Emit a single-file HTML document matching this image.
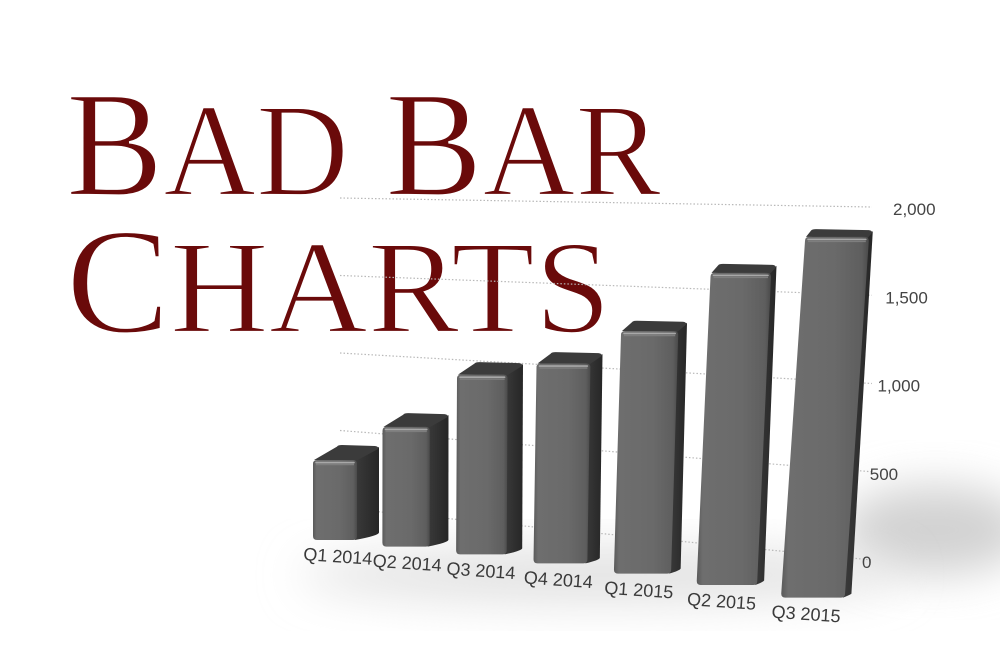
<!DOCTYPE html>
<html><head><meta charset="utf-8"><style>
html,body{margin:0;padding:0;background:#fff;width:1000px;height:667px;overflow:hidden}
svg{display:block}
</style></head><body>
<svg id="chart" width="1000" height="667" viewBox="0 0 1000 667" xmlns="http://www.w3.org/2000/svg">
<defs>
<linearGradient id="frontG" x1="0" x2="1" y1="0" y2="0">
<stop offset="0" stop-color="#5a5a5a"/><stop offset="0.08" stop-color="#6e6e6e"/><stop offset="0.6" stop-color="#6a6a6a"/><stop offset="0.92" stop-color="#5e5e5e"/><stop offset="1" stop-color="#4a4a4a"/>
</linearGradient>
<linearGradient id="sideG" x1="0" x2="1" y1="0" y2="0">
<stop offset="0" stop-color="#3a3a3a"/><stop offset="1" stop-color="#262626"/>
</linearGradient>
<filter id="blur" x="-50%" y="-50%" width="200%" height="200%"><feGaussianBlur stdDeviation="22"/></filter>
</defs>
<g id="shadow">
<ellipse cx="935" cy="530" rx="95" ry="45" fill="#d2d2d2" filter="url(#blur)"/>
<ellipse cx="600" cy="575" rx="300" ry="28" fill="#e2e2e2" filter="url(#blur)"/>
</g>
<g fill="#6a0a0a" stroke="#fff" stroke-width="2.2" font-family="'Liberation Serif', serif">
<text x="66" y="195" textLength="595" lengthAdjust="spacingAndGlyphs" font-size="151">B<tspan font-size="133">AD</tspan> B<tspan font-size="133">AR</tspan></text>
<text x="66" y="332" textLength="545" lengthAdjust="spacingAndGlyphs" font-size="151">C<tspan font-size="133">HARTS</tspan></text>
</g>
<g id="grid"></g>
<g id="ylabels"></g>
<g id="bars"></g>
<g id="xlabels"></g>
</svg>
<script>
const categories = ["Q1 2014","Q2 2014","Q3 2014","Q4 2014","Q1 2015","Q2 2015","Q3 2015"];
const values = [615, 850, 1185, 1230, 1400, 1695, 1850];
const yTicks = [0, 500, 1000, 1500, 2000];
const yTickLabels = ["0","500","1,000","1,500","2,000"];

const NS = "http://www.w3.org/2000/svg";
function mk(tag, attrs, parent){const e=document.createElementNS(NS,tag);for(const k in attrs)e.setAttribute(k,attrs[k]);parent.appendChild(e);return e;}

function gridLeftY(v){return 508 - 0.155*v;}
function gridRightY(v){return 560 - 0.1765*v;}
const GX0 = 340, GX1 = 872;

const grid = document.getElementById('grid');
const ylab = document.getElementById('ylabels');
yTicks.forEach((v,k)=>{
  const l = mk('line',{x1:GX0,y1:gridLeftY(v),x2:GX1,y2:gridRightY(v),stroke:'#b8b8b8','stroke-width':1.2,'stroke-dasharray':'1.5 2'},grid);
  
  
  const t = mk('text',{x:862+v*0.0155,y:gridRightY(v)+8,'font-family':"'Liberation Sans', sans-serif",'font-size':17,fill:'#444'},ylab);
  t.textContent = yTickLabels[k];
  
  
});

function barX(i){return 313 + 67*i + 2.5*i*i;}
function barW(i){return 44 + 3.3*i;}
function barSide(i){return Math.max(4, 22 - 3.3*i);}
function barTopDepth(i){return 15 - 1.2*i;}
function barBottom(i){return 540 + 6*i + 0.6*i*i;}
function barTilt(i){return -0.11*i*i*i;}
function barScale(i){return 0.13 + 0.01083*i;}

const bars = document.getElementById('bars');
const xl = document.getElementById('xlabels');
values.forEach((v,i)=>{
  const g = mk('g',{},bars);
  
  
  const x = barX(i), w = barW(i), s = barSide(i), d = barTopDepth(i);
  const yb = barBottom(i), tilt = barTilt(i);
  const yt = yb - v*barScale(i);
  const r = 4;
  mk('path',{d:`M${x+w-2},${yt} L${x+w+s},${yt-d+2} L${x+w+s+tilt*0.9},${yb-d*0.5} Q${x+w+s+tilt},${yb-d*0.3} ${x+w-2+tilt},${yb}Z`,fill:'url(#sideG)'},g);
  mk('path',{d:`M${x+1},${yt} L${x+s+2},${yt-d+r*0.4} Q${x+s+3},${yt-d} ${x+s+r+3},${yt-d} L${x+w+s-r},${yt-d+1} Q${x+w+s},${yt-d+1.5} ${x+w+s-1},${yt-d+r} L${x+w-1},${yt+1}Z`,fill:'#3b3b3b'},g);
  mk('path',{d:`M${x+r},${yt} L${x+w-r},${yt} Q${x+w},${yt} ${x+w},${yt+r} L${x+w+tilt},${yb-r} Q${x+w+tilt},${yb} ${x+w-r+tilt},${yb} L${x+r+tilt},${yb} Q${x+tilt},${yb} ${x+tilt},${yb-r} L${x},${yt+r} Q${x},${yt} ${x+r},${yt}Z`,fill:'url(#frontG)'},g);
  mk('line',{x1:x+3,y1:yt+2.5,x2:x+w-3,y2:yt+2.5,stroke:'#a8a8a8','stroke-width':1.6,'stroke-linecap':'round'},g);
  mk('line',{x1:x+3,y1:yt+4.5,x2:x+w-3,y2:yt+4.5,stroke:'#7e7e7e','stroke-width':1.5},g);
  const lx = x + tilt - 10, ly = yb + 20;
  const t = mk('text',{x:lx,y:ly,'font-family':"'Liberation Sans', sans-serif",'font-size':18,fill:'#3a3a3a',transform:`rotate(4 ${lx} ${ly})`},xl);
  t.textContent = categories[i];
  
  
});
</script>
</body></html>
